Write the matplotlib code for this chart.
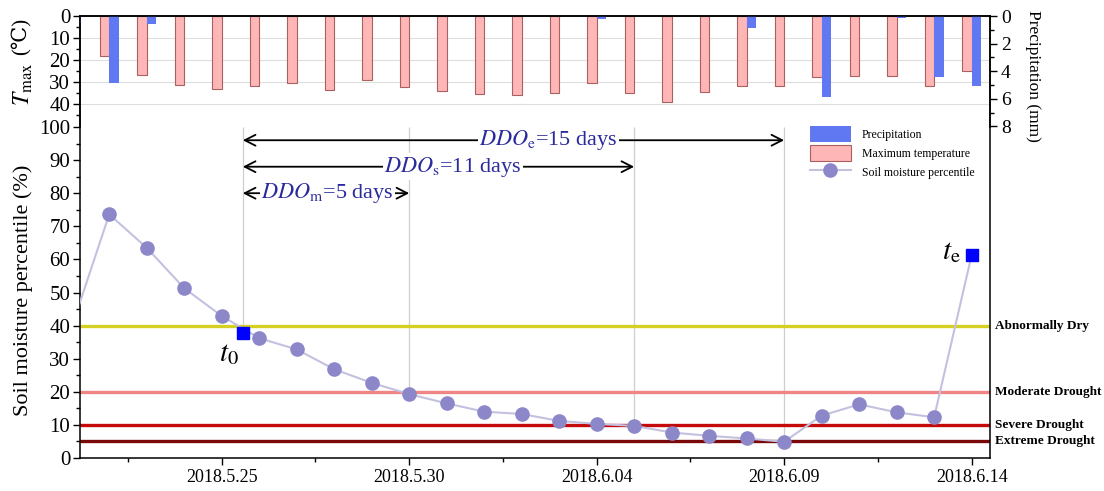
import matplotlib
matplotlib.use('Agg')
import matplotlib.pyplot as plt
import matplotlib.dates as mdates
import matplotlib.transforms as mtransforms
import numpy as np
import pandas as pd
from matplotlib.lines import Line2D
from matplotlib.patches import Patch

plt.rcParams['font.family'] = ['Liberation Serif', 'DejaVu Serif']
plt.rcParams['mathtext.fontset'] = 'stix'

# ---------------- data ----------------
dates = ['2018-05-21', '2018-05-22', '2018-05-23', '2018-05-24', '2018-05-25',
         '2018-05-26', '2018-05-27', '2018-05-28', '2018-05-29', '2018-05-30',
         '2018-05-31', '2018-06-01', '2018-06-02', '2018-06-03', '2018-06-04',
         '2018-06-05', '2018-06-06', '2018-06-07', '2018-06-08', '2018-06-09',
         '2018-06-10', '2018-06-11', '2018-06-12', '2018-06-13', '2018-06-14']
tmax = [np.nan, 18.2, 26.8, 31.4, 33.3, 32.0, 30.3, 33.6, 29.2, 32.1, 33.9, 35.5, 35.9,
        34.8, 30.6, 34.8, 38.9, 34.5, 32.0, 31.8, 27.9, 27.3, 27.3, 31.7, 25.0]
precip = [0.5, 4.85, 0.58, 0, 0, 0, 0, 0, 0, 0, 0, 0, 0, 0, 0.2, 0, 0, 0, 0.85, 0,
          5.87, 0, 0.17, 4.41, 5.07]
soil = [39.6, 73.6, 63.5, 51.3, 42.9, 36.2, 32.8, 26.8, 22.7, 19.3, 16.5, 14.0, 13.3,
        11.2, 10.3, 9.7, 7.7, 6.7, 5.9, 4.9, 12.8, 16.2, 13.8, 12.3, 61.3]

t0_date = '2018-05-25 13:30'
t0_value = 37.9
te_date = '2018-06-14 00:00'
te_value = 61.3
dropline_dates = ['2018-05-25 13:30', '2018-05-30 00:00', '2018-06-05 00:00', '2018-06-09 00:00']
dropline_values = [37.9, 19.3, 9.7, 4.9]

tick_dates = ['2018-05-25', '2018-05-30', '2018-06-04', '2018-06-09', '2018-06-14']
tick_labels = ['2018.5.25', '2018.5.30', '2018.6.04', '2018.6.09', '2018.6.14']

thresholds = [40, 20, 10, 5]
threshold_labels = ['Abnormally Dry', 'Moderate Drought', 'Severe Drought', 'Extreme Drought']
threshold_colors = ['#d6d024', '#f08585', '#c40a0a', '#7a0808']

ddo_labels = [r'$DDO_{\mathrm{e}}$=15 days', r'$DDO_{\mathrm{s}}$=11 days',
              r'$DDO_{\mathrm{m}}$=5 days']
ddo_end_dates = ['2018-06-09 00:00', '2018-06-05 00:00', '2018-05-30 00:00']
ddo_levels = [96, 88, 80]
ddo_text_dates = ['2018-06-02 17:00', '2018-05-31 04:00', '2018-05-27 19:30']

# ---------------- conversions ----------------
def dn(s):
    return mdates.date2num(pd.to_datetime(s, format='mixed'))

x = dn(dates)
t0x = mdates.date2num(pd.Timestamp(t0_date))
tex = mdates.date2num(pd.Timestamp(te_date))
dropx = dn(dropline_dates)
tickx = dn(tick_dates)
ddo_end = dn(ddo_end_dates)
ddo_tx = dn(ddo_text_dates)

xlim = (x[0] + 0.22, x[-1] + 0.49)

BLUE = '#6079f2'
PINK = '#ffb6b6'
PINK_EDGE = '#a86060'
LINE_C = '#c3c1df'
MARK_C = '#8c87c9'
TXT_BLUE = '#2a2a9c'

fig = plt.figure(figsize=(11.04, 4.91), dpi=100)
L, W = 80 / 1104, 910 / 1104
ax_top = fig.add_axes([L, 1 - 127 / 491, W, 111 / 491])
ax = fig.add_axes([L, 1 - 458 / 491, W, 331 / 491])

# ---------------- top panel ----------------
bw = 0.25
ax_top.bar(x - bw / 2, tmax, width=bw, color=PINK, edgecolor=PINK_EDGE, linewidth=0.8, zorder=2)
ax_top.set_ylim(50.45, 0)
ax_top.set_xlim(*xlim)
ax_top.set_yticks([0, 10, 20, 30, 40])
ax_top.set_yticks([5, 15, 25, 35, 45], minor=True)
ax_top.yaxis.grid(True, color='#dedede', linewidth=0.8)
ax_top.set_axisbelow(True)
ax_top.spines['bottom'].set_visible(False)
ax_top.set_xticks([])
ax_top.tick_params(axis='y', which='major', labelsize=15, length=5, width=1, pad=2)
ax_top.tick_params(axis='y', which='minor', length=3, width=1)
for s in ax_top.spines.values():
    s.set_linewidth(1.1)

ax_p = ax_top.twinx()
ax_p.bar(x + bw / 2, precip, width=bw, color=BLUE, edgecolor='none', zorder=2)
ax_p.set_ylim(8.04, 0)
ax_p.set_xlim(*xlim)
ax_p.set_yticks([0, 2, 4, 6, 8])
ax_p.set_yticks([1, 3, 5, 7], minor=True)
ax_p.spines['bottom'].set_visible(False)
ax_p.tick_params(axis='y', which='major', labelsize=14, length=5, width=1, pad=3)
ax_p.tick_params(axis='y', which='minor', length=3, width=1)
for s in ax_p.spines.values():
    s.set_linewidth(1.1)

# ---------------- main panel ----------------
ax.set_xlim(*xlim)
ax.set_ylim(0, 100)
ax.spines['top'].set_visible(False)
for s in ax.spines.values():
    s.set_linewidth(1.1)
ax.set_yticks(np.arange(0, 101, 10))
ax.set_yticks(np.arange(5, 100, 10), minor=True)
ax.tick_params(axis='y', which='major', labelsize=15, length=5, width=1, pad=2)
ax.tick_params(axis='y', which='minor', length=3, width=1)
ax.set_xticks(tickx)
ax.set_xticklabels(tick_labels)
ax.set_xticks(tickx - 2.5, minor=True)
ax.tick_params(axis='x', which='major', labelsize=13, length=5, width=1, pad=3)
ax.tick_params(axis='x', which='minor', length=3, width=1)

for thr, c in zip(thresholds, threshold_colors):
    ax.axhline(thr, color=c, linewidth=2.4, zorder=2)

trans = mtransforms.blended_transform_factory(ax.transAxes, ax.transData)
for thr, lab in zip(thresholds, threshold_labels):
    ax.text(1.006, thr, lab, transform=trans, ha='left', va='center',
            fontsize=9.5, fontweight='bold', clip_on=False)

ax.vlines(dropx, dropline_values, 100, color='#cfcfcf', linewidth=0.9, zorder=1)

ax.plot(x, soil, color=LINE_C, linewidth=1.5, zorder=3)
ax.plot(x[:-1], soil[:-1], linestyle='none', marker='o', markersize=9.5,
        markerfacecolor=MARK_C, markeredgecolor=MARK_C, zorder=4)
ax.plot([t0x, tex], [t0_value, te_value], linestyle='none', marker='s', markersize=8,
        color='#0000ff', zorder=5)

ax.text(t0x - 0.37, 31.5, r'$t_0$', fontsize=21, ha='center', va='center')
ax.text(tex - 0.3, te_value + 1, r'$t_\mathrm{e}$', fontsize=21, ha='right', va='center')

for lab, xe, lvl, xt in zip(ddo_labels, ddo_end, ddo_levels, ddo_tx):
    ax.annotate('', xy=(t0x, lvl), xytext=(xe, lvl),
                arrowprops=dict(arrowstyle='<->,head_length=0.55,head_width=0.28',
                                color='black', lw=1.3, shrinkA=0, shrinkB=0,
                                mutation_scale=14), zorder=6)
    ax.text(xt, lvl, lab, color=TXT_BLUE, fontsize=16, ha='center', va='center',
            zorder=7, bbox=dict(facecolor='white', edgecolor='none', pad=1.0))

handles = [Patch(facecolor=BLUE, edgecolor='none', label='Precipitation'),
           Patch(facecolor=PINK, edgecolor=PINK_EDGE, linewidth=0.8, label='Maximum temperature'),
           Line2D([], [], color=LINE_C, linewidth=1.5, marker='o', markersize=9.5,
                  markerfacecolor=MARK_C, markeredgecolor=MARK_C, label='Soil moisture percentile')]
leg = ax.legend(handles=handles, loc='upper left', bbox_to_anchor=(0.802, 1.003),
                frameon=False, fontsize=8.5, handlelength=3.5, handleheight=1.7,
                labelspacing=0.25, handletextpad=0.9, borderpad=0, borderaxespad=0)
leg.set_zorder(8)

# ---------------- axis titles ----------------
fig.text(23 / 1104, 1 - 290 / 491, 'Soil moisture percentile (%)', rotation=90,
         ha='center', va='center', fontsize=16)
fig.text(23 / 1104, 1 - 84 / 491, r'$T_{\mathrm{max}}$', rotation=90,
         ha='center', va='center', fontsize=17)
fig.text(21 / 1104, 1 - 36 / 491, '(℃)', rotation=90, ha='center', va='center',
         fontsize=15, family=['Liberation Serif', 'DejaVu Serif', 'DejaVu Sans'])
fig.text(1033 / 1104, 1 - 76 / 491, 'Precipitation (mm)', rotation=270,
         ha='center', va='center', fontsize=12.5)

fig.savefig('out.png', dpi=100)
